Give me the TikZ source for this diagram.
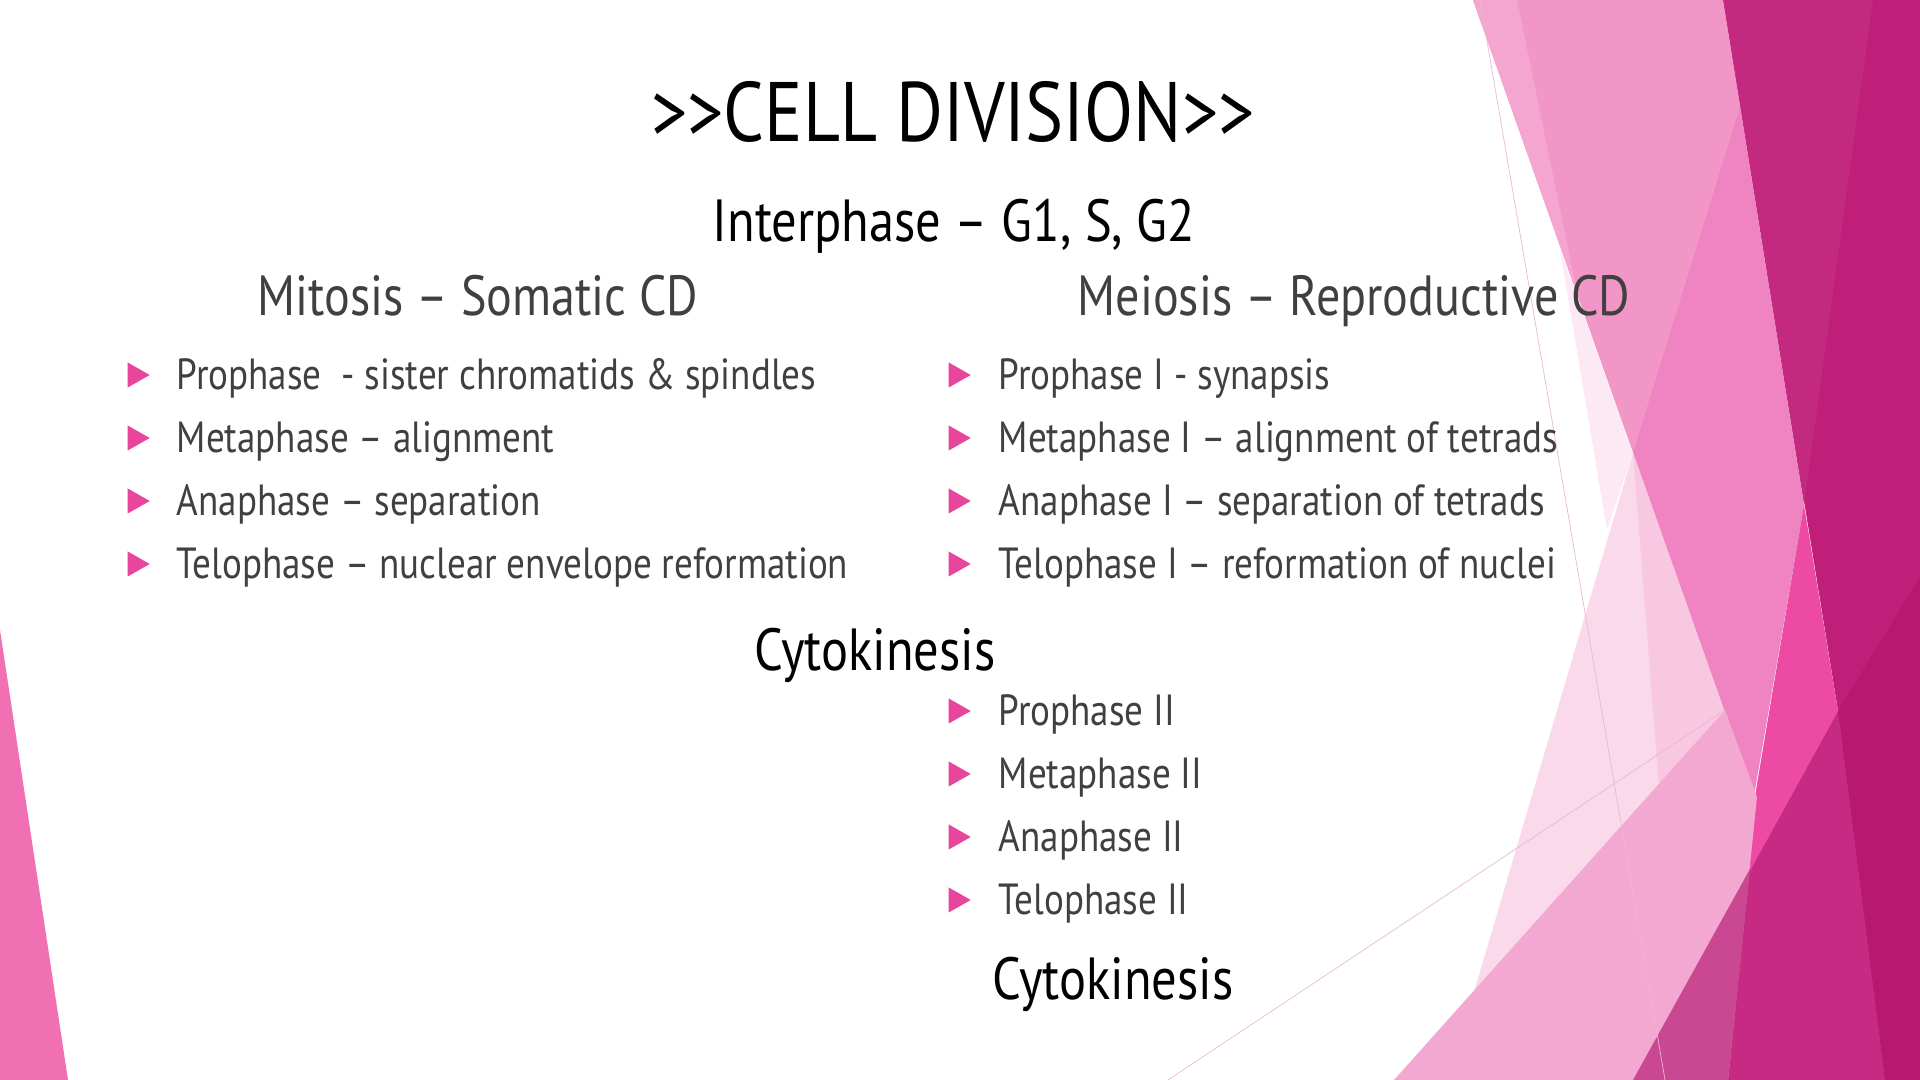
\documentclass[tikz,border=0pt]{standalone}
\usepackage{fontspec}
\setmainfont[FakeStretch=0.85]{PT Sans}
\usetikzlibrary{shapes.geometric,positioning}

\definecolor{bulletpink}{HTML}{E8469C}
\definecolor{textgray}{HTML}{404040}
\definecolor{facetbase}{HTML}{BF1F79}
\definecolor{facetstrip}{HTML}{C2297F}
\definecolor{facetdeep}{HTML}{B8186E}
\definecolor{facetmagenta}{HTML}{C62A82}
\definecolor{facetmauve}{HTML}{CA4791}
\definecolor{facetlight}{HTML}{F196C7}
\definecolor{facetlighter}{HTML}{F4A6D0}
\definecolor{facetmid}{HTML}{F083C1}
\definecolor{facethot}{HTML}{EC4AA3}
\definecolor{facetpale}{HTML}{FADAEA}
\definecolor{facetpaleb}{HTML}{F8C7E0}
\definecolor{facetwash}{HTML}{FDE9F3}
\definecolor{facetrose}{HTML}{F2A8D0}
\definecolor{facetline}{HTML}{E9B9CF}
\definecolor{facetleft}{HTML}{F070B3}

\tikzset{
    maintitle/.style={anchor=base, inner sep=0pt, text=black, font=\fontsize{24}{28}\selectfont},
    subtitle/.style={anchor=base, inner sep=0pt, text=black, font=\fontsize{16.9}{20}\selectfont},
    heading/.style={anchor=base, inner sep=0pt, text=textgray, font=\fontsize{16.1}{20}\selectfont},
    item/.style={anchor=base west, inner sep=0pt, text=textgray, font=\fontsize{12.4}{15}\selectfont},
    bullet/.style={isosceles triangle, isosceles triangle stretches, fill=bulletpink,
        minimum width=0.25cm, minimum height=0.22cm, inner sep=0pt}
}

\begin{document}
\begin{tikzpicture}[x=0.01cm, y=-0.01cm]

				\useasboundingbox (0,0) rectangle (1920,1080);

				% facets on the right
				\fill[facetbase] (1723,0) -- (1920,0) -- (1920,1080) -- (1633,1080) -- (1745,880) -- (1838,711) -- cycle;
				\fill[facetstrip] (1723,0) -- (1873,0) -- (1804,505) -- cycle;
				\fill[facetdeep] (1838,711) -- (1920,577) -- (1920,1080) -- (1885,1080) -- cycle;
				\fill[facetmagenta] (1838,711) -- (1885,1080) -- (1633,1080) -- cycle;
				\fill[facetlight] (1473,0) -- (1723,0) -- (1804,505) -- (1754,795) -- cycle;
				\fill[facetlighter] (1473,0) -- (1517,0) -- (1578,297) -- cycle;
				\fill[facetmid] (1740,107) -- (1804,505) -- (1754,795) -- (1633,453) -- cycle;
				\fill[facethot] (1804,505) -- (1838,711) -- (1745,880) -- (1755,796) -- cycle;
				\fill[facetpale] (1633,453) -- (1724,710) -- (1650,1080) -- (1448,1080) -- cycle;
				\fill[facetpaleb] (1633,453) -- (1724,710) -- (1659,787) -- cycle;
				\fill[facetwash] (1560,250) -- (1633,453) -- (1607,530) -- cycle;
				\fill[facetrose] (1725,710) -- (1757,797) -- (1728,1080) -- (1394,1080) -- cycle;
				\fill[facetmauve] (1750,869) -- (1728,1080) -- (1633,1080) -- cycle;
				\draw[facetline, line width=0.2pt] (1480,0) -- (1665,1080);
				\draw[facetline, line width=0.2pt] (1725,710) -- (1168,1080);
				% facet on the left
				\fill[facetleft] (0,630) -- (68,1080) -- (0,1080) -- cycle;

				\node[maintitle] (title) at (953,142) {>{}>CELL DIVISION>{}>};
				\node[subtitle] (inter) at (954,242) {Interphase – G1, S, G2};
				\node[heading] (mitosis) at (478,316) {Mitosis – Somatic CD};
				\node[heading] (meiosis) at (1354,316) {Meiosis – Reproductive CD};

				% mitosis steps
				\foreach \txt [count=\i] in {{Prophase~~- sister chromatids \& spindles},
						{Metaphase – alignment}, {Anaphase – separation},
						{Telophase – nuclear envelope reformation}} {
					\node[bullet] (mb\i) at (135,312+63*\i) {};
					\node[item] (mt\i) at (176,327+63*\i) {\txt};
				}

				% meiosis I steps
				\foreach \txt [count=\i] in {{Prophase I - synapsis},
						{Metaphase I – alignment of tetrads}, {Anaphase I – separation of tetrads},
						{Telophase I – reformation of nuclei}} {
					\node[bullet] (ab\i) at (956,312+63*\i) {};
					\node[item] (at\i) at (998,327+63*\i) {\txt};
				}

				\node[subtitle] (cyto1) at (875,671) {Cytokinesis};

				% meiosis II steps
				\foreach \txt [count=\i] in {Prophase II, Metaphase II, Anaphase II, Telophase II} {
					\node[bullet] (bb\i) at (956,648+63*\i) {};
					\node[item] (bt\i) at (998,663+63*\i) {\txt};
				}

				\node[subtitle] (cyto2) at (1113,1000) {Cytokinesis};
			\end{tikzpicture}
\end{document}
